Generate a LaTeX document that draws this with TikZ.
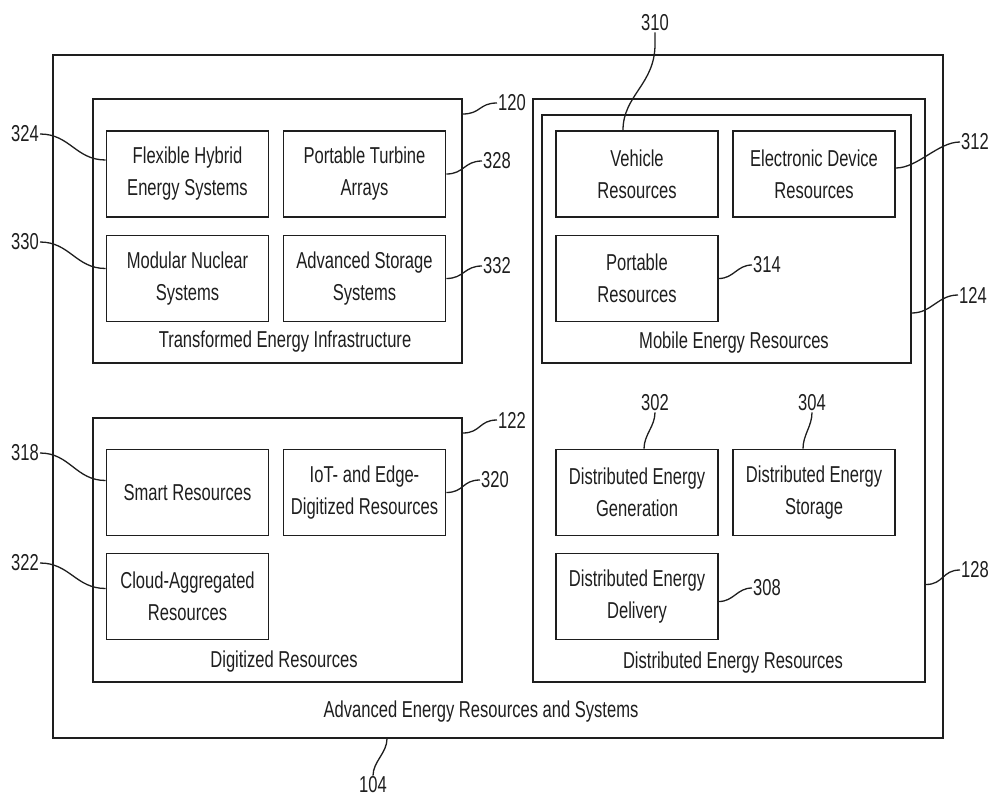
\documentclass[tikz,border=0pt]{standalone}
\usepackage{fontspec}
\setmainfont[FakeStretch=0.72]{Liberation Sans}
\usetikzlibrary{calc}
\definecolor{ink}{HTML}{1E1E1E}

\begin{document}
\begin{tikzpicture}[x=1pt,y=-1pt,
  every node/.style={font=\fontsize{23}{32}\selectfont, text=ink},
  box/.style={draw=ink, line width=1.6pt, minimum width=162pt, minimum height=86pt,
              align=center, inner sep=0pt},
  frame/.style={draw=ink, line width=1.6pt, inner sep=0pt},
  ref/.style={inner sep=1pt},
  lead/.style={draw=ink, line width=1.3pt},
]
\useasboundingbox (0,0) rectangle (992,798);

% enclosing frames
\node[frame, minimum width=890pt, minimum height=683pt] (sys) at (498,396.5) {};
\node[frame, minimum width=369pt, minimum height=264pt] (tei) at (277.5,231) {};
\node[frame, minimum width=369pt, minimum height=264pt] (dig) at (277.5,550) {};
\node[frame, minimum width=392pt, minimum height=583pt] (der) at (729,390.5) {};
\node[frame, minimum width=369pt, minimum height=248pt] (mer) at (726.5,239) {};

% frame captions
\node (tteil) at (285,342) {Transformed Energy Infrastructure};
\node (tdig)  at (284,662) {Digitized Resources};
\node (tmer)  at (734,343) {Mobile Energy Resources};
\node (tder)  at (733,663) {Distributed Energy Resources};
\node (tsys)  at (481,712) {Advanced Energy Resources and Systems};

% transformed energy infrastructure
\node[box] (fhe) at (187.5,174)   {Flexible Hybrid\\Energy Systems};
\node[box] (pta) at (364.5,174)   {Portable Turbine\\Arrays};
\node[box] (mns) at (187.5,278.5) {Modular Nuclear\\Systems};
\node[box] (ass) at (364.5,278.5) {Advanced Storage\\Systems};

% mobile energy resources
\node[box] (veh) at (637,174)   {Vehicle\\Resources};
\node[box] (edr) at (814,174)   {Electronic Device\\Resources};
\node[box] (por) at (637,278.5) {Portable\\Resources};

% digitized resources
\node[box] (sma) at (187.5,492.5) {Smart Resources};
\node[box] (iot) at (364.5,492.5) {IoT- and Edge-\\Digitized Resources};
\node[box] (cla) at (187.5,596.5) {Cloud-Aggregated\\Resources};

% distributed energy resources
\node[box] (deg) at (637,492.5) {Distributed Energy\\Generation};
\node[box] (des) at (814,492.5) {Distributed Energy\\Storage};
\node[box] (ded) at (637,596.5) {Distributed Energy\\Delivery};

% reference numerals
\node[ref] (n310) at (655,23)  {310};
\node[ref] (n312) at (975,142) {312};
\node[ref] (n314) at (767,265) {314};
\node[ref] (n124) at (973,295) {124};
\node[ref] (n120) at (512,103) {120};
\node[ref] (n328) at (497,161) {328};
\node[ref] (n332) at (497,266) {332};
\node[ref] (n324) at (25,134)  {324};
\node[ref] (n330) at (25,242)  {330};
\node[ref] (n318) at (25,453)  {318};
\node[ref] (n322) at (25,563)  {322};
\node[ref] (n122) at (512,420) {122};
\node[ref] (n320) at (495,480) {320};
\node[ref] (n302) at (655,403) {302};
\node[ref] (n304) at (812,403) {304};
\node[ref] (n308) at (767,588) {308};
\node[ref] (n128) at (975,570) {128};
\node[ref] (n104) at (373,785) {104};

% leader lines
\draw[lead] (n310.south) -- ++(0,12) .. controls +(0,40) and +(0,-35) .. ([xshift=-14pt]veh.north);
\draw[lead] (n312.west) .. controls +(-22,0) and +(22,0) .. ([yshift=6pt]edr.east);
\draw[lead] (n314.west) .. controls +(-15,0) and +(15,0) .. (por.east);
\draw[lead] (n124.west) .. controls +(-20,0) and +(20,0) .. ([yshift=-74pt]mer.east);
\draw[lead] (n120.west) .. controls +(-18,0) and +(18,0) .. ([yshift=117pt]tei.east);
\draw[lead] (n328.west) .. controls +(-18,0) and +(18,0) .. (pta.east);
\draw[lead] (n332.west) .. controls +(-18,0) and +(18,0) .. (ass.east);
\draw[lead] (n324.east) .. controls +(30,0) and +(-30,0) .. ([yshift=14pt]fhe.west);
\draw[lead] (n330.east) .. controls +(30,0) and +(-30,0) .. ([yshift=10pt]mns.west);
\draw[lead] (n318.east) .. controls +(30,0) and +(-30,0) .. ([yshift=12pt]sma.west);
\draw[lead] (n322.east) .. controls +(30,0) and +(-30,0) .. ([yshift=8pt]cla.west);
\draw[lead] (n122.west) .. controls +(-18,0) and +(18,0) .. ([yshift=117pt]dig.east);
\draw[lead] (n320.west) .. controls +(-18,0) and +(18,0) .. (iot.east);
\draw[lead] (n302.south) .. controls +(0,14) and +(0,-14) .. ([xshift=7pt]deg.north);
\draw[lead] (n304.south) .. controls +(0,14) and +(0,-14) .. ([xshift=-11pt]des.north);
\draw[lead] (n308.west) .. controls +(-15,0) and +(15,0) .. ([yshift=-5pt]ded.east);
\draw[lead] (n128.west) .. controls +(-18,0) and +(18,0) .. ([yshift=-194pt]der.east);
\draw[lead] ([xshift=-111pt]sys.south) .. controls +(0,14) and +(0,-14) .. (n104.north);
\end{tikzpicture}
\end{document}
